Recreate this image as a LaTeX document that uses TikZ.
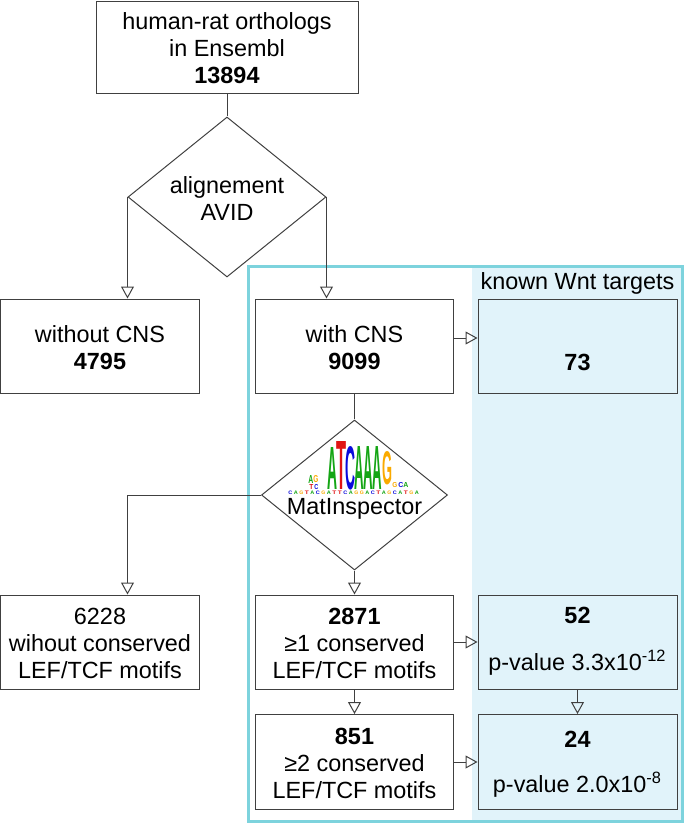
\documentclass[tikz,border=0pt]{standalone}
\usepackage{fontspec}
\setmainfont{Liberation Sans}
\usetikzlibrary{shapes.geometric,arrows.meta,positioning}
\definecolor{linegray}{RGB}{64,64,64}
\definecolor{wntframe}{RGB}{125,211,221}
\definecolor{wntfill}{RGB}{225,243,250}
\definecolor{seqA}{RGB}{20,165,20}
\definecolor{seqC}{RGB}{10,10,220}
\definecolor{seqG}{RGB}{250,170,0}
\definecolor{seqT}{RGB}{225,20,20}
\newdimen\pxu \pxu=0.5pt

\begin{document}
\begin{tikzpicture}[x=0.5pt, y=-0.5pt,
    every node/.style={font=\fontsize{11.7}{13.5}\selectfont},
    box/.style={rectangle, draw=linegray, line width=0.5pt, inner sep=0, minimum width=99.5pt, minimum height=47pt},
    wntbox/.style={box, fill=wntfill},
    choice/.style={diamond, draw=linegray, line width=0.5pt, inner sep=0},
    boxtxt/.style={align=center, inner sep=0, yshift=-0.6pt},
    flow/.style={draw=linegray, line width=0.5pt, -{Triangle[open, length=6pt, width=6.5pt]}},
    link/.style={draw=linegray, line width=0.5pt},
    seqltr/.style={anchor=south west, inner sep=0, font=\bfseries, text=seq#1}]
  \useasboundingbox (0,0) rectangle (685,825);

  % known Wnt targets column
  \fill[wntfill] (472,266) rectangle (682,821);
  \draw[wntframe, line width=1.5pt] (248,266) rectangle (682,821);

  \node[box, minimum width=131pt, minimum height=46pt] (orth) at (227,47) {};
  \node[boxtxt] (orthtxt) at (orth) {human-rat orthologs\\in Ensembl\\\textbf{13894}};
  \node[choice, minimum width=99pt, minimum height=80pt] (avid) at (227,197) {};
  \node[boxtxt] (avidtxt) at (avid) {alignement\\AVID};

  \node[box] (noCNS) at (100,346) {};
  \node[boxtxt] (noCNStxt) at (noCNS) {without CNS\\\textbf{4795}};
  \node[box, minimum width=99pt] (withCNS) at (354.5,346) {};
  \node[boxtxt] (withCNStxt) at (withCNS) {with CNS\\\textbf{9099}};
  \node[wntbox] (wnt73) at (577.5,346) {};
  \node[anchor=base] (wnt73txt) at (577.5,370) {\textbf{73}};
  \node[above=2pt of wnt73, inner sep=0] (known) {known Wnt targets};

  \node[choice, minimum width=93pt, minimum height=75pt] (matinsp) at (354.5,495) {};
  % sequence logo
  \foreach \ch/\lx/\by/\w/\h [count=\k] in {A/327/490/10/42, T/336/490/10/48, C/345/490/10/43,
      A/354/490/9.5/43, A/363/490/9.5/43, A/372.5/490/9.5/43, G/382/485/10/33,
      A/308/484/5/8, T/309/490/4/5, G/313/483/5/7, C/314/490/4/5,
      G/392/488/5/5, C/398/488/5/5, A/403/488/5/5}
    \node[seqltr=\ch] (ltr\k) at (\lx,\by) {\resizebox{\w\pxu}{\h\pxu}{\ch}};
  \foreach \ch [count=\k] in {C,A,G,T,A,C,G,A,T,T,C,A,G,G,A,C,T,A,G,C,A,T,G,A}
    \node[seqltr=\ch] (tiny\k) at ({288+5.5*(\k-1)},495) {\resizebox{4\pxu}{3.5\pxu}{\ch}};
  \node[anchor=base, inner sep=0] (matlbl) at (354.5,514) {MatInspector};

  \node[box] (motif0) at (100,642) {};
  \node[boxtxt] (motif0txt) at (motif0) {6228\\wihout conserved\\LEF/TCF motifs};
  \node[box, minimum width=99pt] (motif1) at (354.5,642) {};
  \node[boxtxt] (motif1txt) at (motif1) {\textbf{2871}\\≥1 conserved\\LEF/TCF motifs};
  \node[wntbox] (wnt52) at (577.5,642) {};
  \node[anchor=base] (wnt52txt) at (577.5,623) {\textbf{52}};
  \node[anchor=base] (p52) at (577.5,670) {p-value 3.3x10\textsuperscript{-12}};

  \node[box, minimum width=99pt, minimum height=47.5pt] (motif2) at (354.5,762) {};
  \node[boxtxt] (motif2txt) at (motif2) {\textbf{851}\\≥2 conserved\\LEF/TCF motifs};
  \node[wntbox, minimum height=47.5pt] (wnt24) at (577.5,762) {};
  \node[anchor=base] (wnt24txt) at (577.5,747) {\textbf{24}};
  \node[anchor=base] (p24) at (577.5,792) {p-value 2.0x10\textsuperscript{-8}};

  \draw[link] (orth) -- (avid);
  \draw[flow] (avid.west) -- (avid.west |- noCNS.north);
  \draw[flow] (avid.east) -- (avid.east |- withCNS.north);
  \draw[flow] ([yshift=4pt]withCNS.east) -- ([yshift=4pt]withCNS.east -| wnt73.west);
  \draw[link] (withCNS) -- (matinsp);
  \draw[flow] (matinsp.west) -| (avid.west |- motif0.north);
  \draw[flow] (matinsp) -- (motif1);
  \draw[flow] (motif1) -- (wnt52);
  \draw[flow] (motif1) -- (motif2);
  \draw[flow] (wnt52) -- (wnt24);
  \draw[flow] (motif2) -- (wnt24);
\end{tikzpicture}
\end{document}
